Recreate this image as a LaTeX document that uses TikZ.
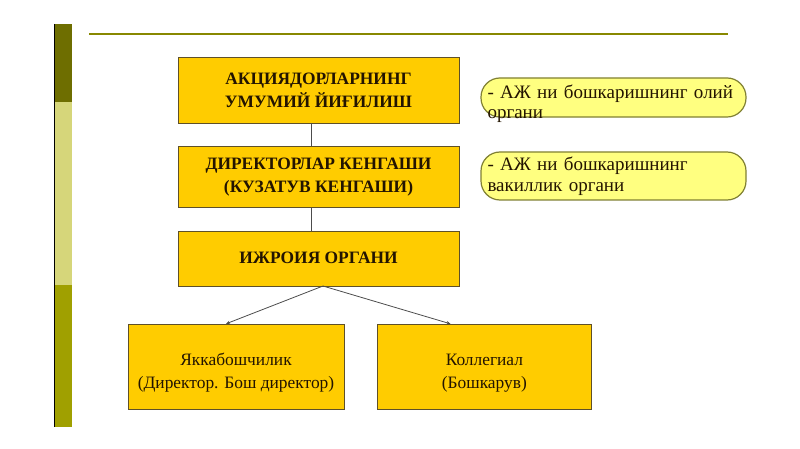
\documentclass[tikz,border=0pt]{standalone}
\usepackage{fontspec}
\setmainfont{Liberation Serif}
\usetikzlibrary{positioning,arrows.meta}
\definecolor{gold}{RGB}{255,204,0}
\definecolor{paleyel}{RGB}{255,255,128}
\definecolor{darkolive}{RGB}{110,110,0}
\definecolor{khaki}{RGB}{214,214,122}
\definecolor{olive}{RGB}{160,160,0}
\definecolor{rim}{RGB}{95,80,40}
\definecolor{ink}{RGB}{35,20,0}
\begin{document}
\begin{tikzpicture}[x=1pt,y=-1pt,
    org/.style = {draw=rim, fill=gold, text=ink, align=center, inner sep=0pt,
                  minimum width=281pt, font=\fontsize{17.4}{23}\selectfont\bfseries},
    sub/.style = {draw=rim, fill=gold, text=ink, align=center, inner sep=0pt,
                  minimum height=85pt, font=\fontsize{17.4}{23}\selectfont},
    note/.style = {draw=olive!60!black!80, line width=1.2pt, fill=paleyel, rounded corners=19pt,
                   text=ink, align=left, text width=252pt, inner xsep=6.5pt, inner ysep=0pt,
                   minimum width=265pt, font=\fontsize{19}{20}\selectfont},
    link/.style = {draw=black!70, line width=0.8pt}]
\useasboundingbox (0,0) rectangle (800,449);
% side bar and top rule
\fill[darkolive] (54,24) rectangle (72,102);
\fill[khaki] (54,102) rectangle (72,285);
\fill[olive] (54,285) rectangle (72,427);
\draw[black, line width=1pt] (54.5,24) -- (54.5,427);
\draw[olive!85!black, line width=1.6pt] (89,34) -- (728,34);
% boxes
\node[org, minimum height=66pt] (1) at (318.5,90) {АКЦИЯДОРЛАРНИНГ\\УМУМИЙ ЙИҒИЛИШ};
\node[org, minimum height=61pt] (2) [below=23pt of 1] {ДИРЕКТОРЛАР КЕНГАШИ\\(КУЗАТУВ КЕНГАШИ)};
\node[org, minimum height=55pt] (3) [below=23pt of 2] {ИЖРОИЯ ОРГАНИ};
\node[sub, minimum width=216pt] (4) at (236,366.5) {\rule{0pt}{24pt}Яккабошчилик\\(Директор. Бош директор)};
\node[sub, minimum width=214pt] (5) [right=33pt of 4] {\rule{0pt}{24pt}Коллегиал\\(Бошкарув)};
% notes
\node[note, minimum height=39pt, inner ysep=-6pt] (n1) at (613.5,97.5) {\rule{0pt}{27pt}- АЖ ни бошкаришнинг олий\\органи};
\node[note, minimum height=48pt] (n2) at (613.5,176) {- АЖ ни бошкаришнинг\\[1pt]вакиллик органи};
% links
\draw[link] ([xshift=-7.5pt]1.south) -- ([xshift=-7.5pt]2.north);
\draw[link] ([xshift=-7.5pt]2.south) -- ([xshift=-7.5pt]3.north);
\draw[link, -{Stealth[length=4pt,width=3.5pt]}] ([xshift=4.5pt]3.south) -- ([xshift=-10pt]4.north);
\draw[link, -{Stealth[length=4pt,width=3.5pt]}] ([xshift=4.5pt]3.south) -- ([xshift=-34pt]5.north);
\end{tikzpicture}
\end{document}
